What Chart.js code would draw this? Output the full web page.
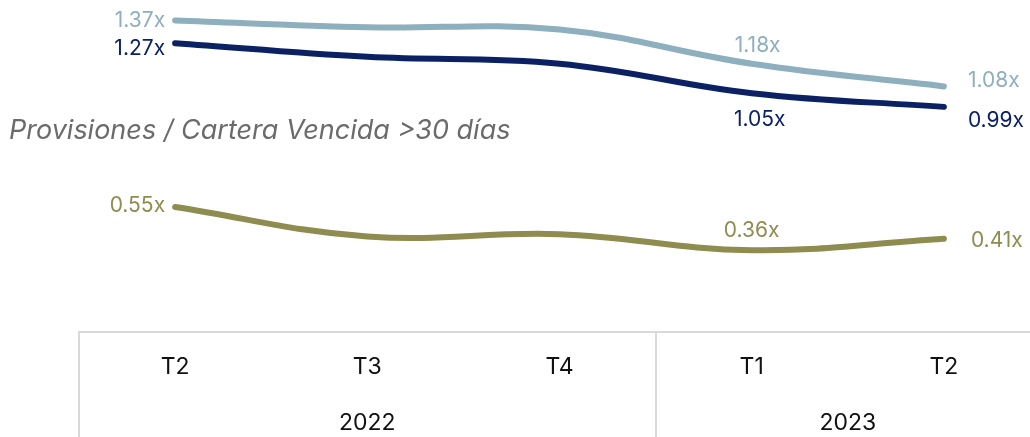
<!DOCTYPE html>
<html>
<head>
<meta charset="utf-8">
<script src="https://cdn.jsdelivr.net/npm/chart.js@4.4.0/dist/chart.umd.min.js"></script>
<style>
    html, body { margin: 0; padding: 0; background: #ffffff; overflow: hidden; }
    #grafico { display: block; }
</style>
</head>
<body>
<canvas id="grafico" width="1040" height="437"></canvas>
<script>
// Datos
var trimestres = ['T2', 'T3', 'T4', 'T1', 'T2'];
var anios = ['2022', '2023'];
var gruposAnio = [[0, 2], [3, 4]];
var serieClara = [1.37, 1.34, 1.33, 1.18, 1.08];
var serieOscura = [1.27, 1.21, 1.18, 1.05, 0.99];
var serieOliva = [0.55, 0.42, 0.43, 0.36, 0.41];
var titulo = 'Provisiones / Cartera Vencida >30 días';

var fuente = 'Inter, "Noto Sans", sans-serif';

// Dónde se escribe cada etiqueta: [indice, dx, dy, alineacion]
var etiquetasClara = [[0, -10, 7, 'right'], [3, 6, -12, 'center'], [4, 24, 1, 'left']];
var etiquetasOscura = [[0, -10, 12, 'right'], [3, 8, 33, 'center'], [4, 24, 20, 'left']];
var etiquetasOliva = [[0, -10, 5, 'right'], [3, 0, -13, 'center'], [4, 27, 8, 'left']];

var pluginEtiquetas = {
    id: 'etiquetas',
    afterDatasetsDraw: function (chart) {
        var ctx = chart.ctx;
        ctx.save();
        ctx.font = '400 21px ' + fuente;
        ctx.textBaseline = 'alphabetic';
        chart.data.datasets.forEach(function (ds, i) {
            var meta = chart.getDatasetMeta(i);
            ctx.fillStyle = ds.borderColor;
            ds.etiquetas.forEach(function (e) {
                var pt = meta.data[e[0]];
                ctx.textAlign = e[3];
                ctx.fillText(ds.data[e[0]].toFixed(2) + 'x', pt.x + e[1], pt.y + e[2]);
            });
        });

        // titulo en cursiva
        ctx.font = 'italic 400 27px ' + fuente;
        ctx.fillStyle = '#6b6b6b';
        ctx.textAlign = 'left';
        ctx.fillText(titulo, 9, 139);
        ctx.restore();
    }
};

var pluginAnios = {
    id: 'anios',
    afterDraw: function (chart) {
        var ctx = chart.ctx;
        var x = chart.scales.x;
        var medio = (x.getPixelForValue(1) - x.getPixelForValue(0)) / 2;
        var abajo = chart.chartArea.bottom;
        ctx.save();
        ctx.strokeStyle = '#d9d9d9';
        ctx.lineWidth = 2;
        ctx.font = '400 23px ' + fuente;
        ctx.fillStyle = '#111111';
        ctx.textAlign = 'center';
        ctx.textBaseline = 'alphabetic';
        gruposAnio.forEach(function (g, i) {
            var ini = x.getPixelForValue(g[0]) - medio;
            var fin = x.getPixelForValue(g[1]) + medio;
            ctx.beginPath();
            ctx.moveTo(Math.round(ini), abajo);
            ctx.lineTo(Math.round(ini), chart.height);
            ctx.stroke();
            ctx.fillText(anios[i], (ini + fin) / 2, 430);
        });
        ctx.restore();
    }
};

function crearSerie(datos, color, etiquetas) {
    return {
        data: datos,
        borderColor: color,
        backgroundColor: color,
        borderWidth: 6,
        borderCapStyle: 'round',
        pointRadius: 0,
        pointHoverRadius: 0,
        tension: 0.4,
        clip: false,
        etiquetas: etiquetas
    };
}

var ctx = document.getElementById('grafico').getContext('2d');
var grafico = new Chart(ctx, {
    type: 'line',
    data: {
        labels: trimestres,
        datasets: [
            crearSerie(serieClara, '#8eafbe', etiquetasClara),
            crearSerie(serieOscura, '#0b2163', etiquetasOscura),
            crearSerie(serieOliva, '#8e8c4f', etiquetasOliva)
        ]
    },
    options: {
        responsive: false,
        animation: false,
        layout: { padding: { left: 79, right: 0, top: 0, bottom: 0 } },
        plugins: {
            legend: { display: false },
            tooltip: { enabled: false }
        },
        scales: {
            y: {
                display: false,
                min: 0,
                max: 1.46
            },
            x: {
                offset: true,
                afterFit: function (scale) { scale.height = 105; },
                grid: { display: false, drawTicks: false },
                border: { display: true, color: '#d9d9d9', width: 2 },
                ticks: {
                    padding: 21,
                    color: '#111111',
                    font: { family: fuente, size: 23 }
                }
            }
        }
    },
    plugins: [pluginEtiquetas, pluginAnios]
});
</script>
</body>
</html>
